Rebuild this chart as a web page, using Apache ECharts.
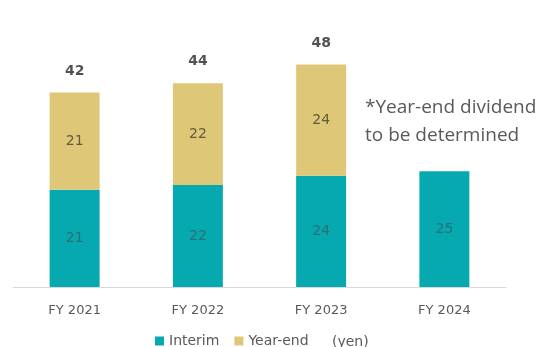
<!DOCTYPE html>
<html>
<head>
<meta charset="utf-8">
<script src="https://cdn.jsdelivr.net/npm/echarts@6/dist/echarts.min.js"></script>
<style>html,body{margin:0;padding:0;background:#fff}#c{width:536px;height:347px}</style>
</head>
<body>
<div id="c"></div>
<script>
const categories = ['FY 2021', 'FY 2022', 'FY 2023', 'FY 2024'];
const interim = [21, 22, 24, 25];
const yearEnd = [21, 22, 24, null];
const totals = [42, 44, 48, null];
const seriesNames = ['Interim', 'Year-end'];
const unitText = '(yen)';
const noteLines = ['*Year-end dividend', 'to be determined'];

const TEAL = '#07A9B1';
const GOLD = '#DEC878';
const FONT = 'DejaVu Sans';

const chart = echarts.init(document.getElementById('c'), null, {renderer: 'canvas'});
chart.setOption({
  animation: false,
  backgroundColor: '#fff',
  grid: {left: 13, right: 30, top: 9, bottom: 60, containLabel: false},
  xAxis: {
    type: 'category',
    data: categories,
    axisLine: {lineStyle: {color: '#d9d9d9', width: 1}},
    axisTick: {show: false},
    axisLabel: {color: '#595959', fontFamily: FONT, fontSize: 13, margin: 17}
  },
  yAxis: {
    type: 'value', min: 0, max: 60,
    show: false,
    splitLine: {show: false}
  },
  legend: {
    data: seriesNames,
    left: 155, top: 334, padding: 0,
    itemWidth: 9, itemHeight: 9, itemGap: 15,
    icon: 'rect',
    textStyle: {color: '#595959', fontFamily: FONT, fontSize: 14}
  },
  series: [
    {
      name: seriesNames[0], type: 'bar', stack: 'div', data: interim,
      barWidth: 50,
      itemStyle: {color: TEAL},
      label: {show: true, position: 'inside', color: '#2b6f74', fontFamily: FONT, fontSize: 14}
    },
    {
      name: seriesNames[1], type: 'bar', stack: 'div', data: yearEnd,
      barWidth: 50,
      itemStyle: {color: GOLD},
      label: {show: true, position: 'inside', color: '#615a3e', fontFamily: FONT, fontSize: 14}
    },
    {
      name: 'Total', type: 'scatter', data: totals,
      symbolSize: 1, itemStyle: {color: 'rgba(0,0,0,0)'},
      label: {show: true, position: 'top', distance: 14, color: '#262626', fontFamily: FONT, fontSize: 14, fontWeight: 'bold'},
      silent: true
    }
  ],
  graphic: [
    {type: 'text', left: 332, top: 335, style: {text: unitText, fill: '#595959', font: '14px "DejaVu Sans"'}},
    {type: 'text', left: 365, top: 94, style: {text: noteLines.join('\n'), fill: '#595959', font: '19px "Open Sans"', lineHeight: 28}}
  ]
});
</script>
</body>
</html>
